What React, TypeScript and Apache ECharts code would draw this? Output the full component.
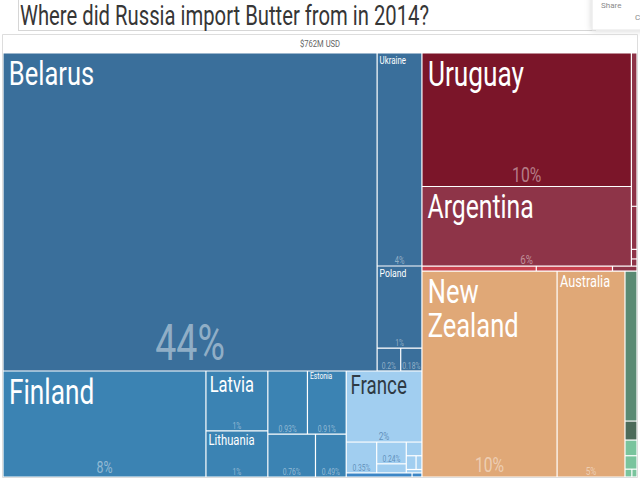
import React, { useEffect, useRef } from "react";
import * as echarts from "echarts";

const TITLE = "Where did Russia import Butter from in 2014?";
const TOTAL_LABEL = "$762M USD";

// Hierarchy: continent -> region -> country; values are % of Russia's butter imports (2014)
const continents = ["Europe", "Americas", "Oceania", "Asia", "Africa"];
const regions = [
  "Eastern Europe", "Northern Europe", "Western Europe", "Southern Europe",
  "South America", "North America", "Australia and New Zealand", "Central Asia", "Northern Africa",
];
const regionContinent = [
  "Europe", "Europe", "Europe", "Europe",
  "Americas", "Americas", "Oceania", "Asia", "Africa",
];
const countries = [
  "Belarus", "Ukraine", "Poland", "Moldova", "Hungary",
  "Finland", "Latvia", "Lithuania", "Denmark", "Estonia", "Ireland", "Sweden",
  "France", "Netherlands", "Germany", "Belgium", "Austria", "Switzerland", "Czechia", "Luxembourg",
  "Italy", "Greece",
  "Uruguay", "Argentina", "Chile", "Paraguay", "Brazil", "Colombia",
  "United States", "Mexico", "Canada",
  "New Zealand", "Australia",
  "Kazakhstan", "Kyrgyzstan",
  "Egypt", "Tunisia", "Morocco", "Algeria",
];
const countryRegion = [
  "Eastern Europe", "Eastern Europe", "Eastern Europe", "Eastern Europe", "Eastern Europe",
  "Northern Europe", "Northern Europe", "Northern Europe", "Northern Europe", "Northern Europe", "Northern Europe", "Northern Europe",
  "Western Europe", "Western Europe", "Western Europe", "Western Europe", "Western Europe", "Western Europe", "Western Europe", "Western Europe",
  "Southern Europe", "Southern Europe",
  "South America", "South America", "South America", "South America", "South America", "South America",
  "North America", "North America", "North America",
  "Australia and New Zealand", "Australia and New Zealand",
  "Central Asia", "Central Asia",
  "Northern Africa", "Northern Africa", "Northern Africa", "Northern Africa",
];
const importShare = [
  44.24, 3.55, 1.37, 0.2, 0.18,
  8.0, 1.38, 1.06, 0.93, 0.91, 0.76, 0.49,
  2.0, 0.35, 0.24, 0.1, 0.08, 0.05, 0.03, 0.02,
  0.1, 0.015,
  10.4, 6.2, 0.32, 0.09, 0.02, 0.015,
  0.21, 0.14, 0.045,
  10.35, 5.2,
  0.67, 0.085,
  0.07, 0.06, 0.02, 0.015,
];

// Which countries carry a name label / a share label in the picture
const namedCountries = [
  "Belarus", "Ukraine", "Poland", "Finland", "Latvia", "Lithuania", "Estonia",
  "France", "Uruguay", "Argentina", "New Zealand", "Australia",
];
const shareLabelled = [
  "Belarus", "Ukraine", "Poland", "Moldova", "Hungary", "Finland", "Latvia", "Lithuania",
  "Denmark", "Estonia", "Ireland", "Sweden", "France", "Netherlands", "Germany",
  "Uruguay", "Argentina", "New Zealand", "Australia",
];

// ---- styles ----
const FONT = "Roboto, 'Liberation Sans', sans-serif";
const SX = 0.75; // condensed look of the original face
const regionColor: Record<string, string> = {
  "Eastern Europe": "#3a6f9b",
  "Northern Europe": "#3b83b3",
  "Western Europe": "#a1cef0",
  "Southern Europe": "#3c86c6",
  "South America": "#8e3448",
  "North America": "#c9414e",
  "Australia and New Zealand": "#e0a877",
  "Central Asia": "#5a8a73",
  "Northern Africa": "#79c49d",
};
const countryColor: Record<string, string> = {
  Uruguay: "#7b1529",
  Canada: "#8e3448",
  Kyrgyzstan: "#4c6b5a",
};
const nameSize: Record<string, number> = {
  Belarus: 34, Uruguay: 35, Argentina: 33, Finland: 35, "New Zealand": 34, France: 25,
  Latvia: 22, Australia: 17, Lithuania: 15, Poland: 11.5, Ukraine: 10.5, Estonia: 9,
};
const shareSize: Record<string, number> = {
  Belarus: 50, Uruguay: 21, "New Zealand": 21, Finland: 16.5, Argentina: 13,
  Australia: 11, Ukraine: 10, France: 11,
};
const lightRegions = ["Western Europe"];

function fmtShare(v: number): string {
  if (v >= 1) return Math.round(v) + "%";
  return parseFloat(v.toFixed(2)) + "%";
}

function buildTree() {
  return continents.map((c) => ({
    name: c,
    children: regions
      .filter((_, ri) => regionContinent[ri] === c)
      .map((r) => ({
        name: r,
        children: countries
          .map((n, i) => ({ n, i }))
          .filter((o) => countryRegion[o.i] === r)
          .map((o) => ({
            name: o.n,
            value: importShare[o.i],
            itemStyle: {
              color: countryColor[o.n] || regionColor[r],
              borderColor: "rgba(255,255,255,0.88)",
              borderWidth: 0.6,
            },
          })),
      })),
  }));
}

const TM_BOX = { left: 3, top: 53, width: 634, height: 424 };

type R = { x: number; y: number; w: number; h: number };

function leafRects(chart: any): Record<string, R> {
  const out: Record<string, R> = {};
  try {
    const series = chart.getModel().getSeriesByIndex(0);
    const root = series.getData().tree.root;
    const walk = (node: any, ox: number, oy: number) => {
      const l = node.getLayout();
      if (!l) return;
      const ax = ox + (l.x || 0);
      const ay = oy + (l.y || 0);
      if (!node.children || node.children.length === 0) {
        out[node.name] = { x: ax, y: ay, w: l.width, h: l.height };
      } else {
        node.children.forEach((c: any) => walk(c, ax, ay));
      }
    };
    walk(root, TM_BOX.left, TM_BOX.top);
  } catch (e) {
    // ignore
  }
  return out;
}

let measureCtx: CanvasRenderingContext2D | null = null;
function textWidth(t: string, fs: number): number {
  if (!measureCtx) measureCtx = document.createElement("canvas").getContext("2d");
  if (!measureCtx) return t.length * fs * 0.5;
  measureCtx.font = `${fs}px ${FONT}`;
  return measureCtx.measureText(t).width * SX;
}

function wrapWords(t: string, fs: number, maxW: number): string {
  if (textWidth(t, fs) <= maxW) return t;
  return t.split(" ").join("\n");
}

function staticGraphics() {
  return [
    { type: "line", shape: { x1: 18.5, y1: 0, x2: 18.5, y2: 30 }, style: { stroke: "#d6d6d6", lineWidth: 1 } },
    { type: "line", shape: { x1: 18, y1: 30.5, x2: 596, y2: 30.5 }, style: { stroke: "#d6d6d6", lineWidth: 1 } },
    {
      type: "text",
      x: 20,
      y: 2,
      scaleX: SX,
      style: { text: TITLE, fontSize: 27, fill: "#363636", fontFamily: FONT, verticalAlign: "top" },
    },
    {
      type: "rect",
      shape: { x: 592, y: -4, width: 60, height: 34 },
      style: { fill: "#ffffff", stroke: "#e4e4e4", shadowBlur: 6, shadowColor: "rgba(0,0,0,0.18)" },
    },
    { type: "text", x: 601, y: 1, style: { text: "Share", fontSize: 8, fill: "#8a8a8a", fontFamily: FONT } },
    { type: "text", x: 635, y: 13, style: { text: "C", fontSize: 8, fill: "#8a8a8a", fontFamily: FONT } },
    {
      type: "rect",
      shape: { x: 2.5, y: 34.5, width: 635, height: 443 },
      style: { fill: "none", stroke: "#dddddd", lineWidth: 1 },
    },
    {
      type: "text",
      x: 320,
      y: 43.5,
      scaleX: 0.85,
      style: {
        text: TOTAL_LABEL,
        fontSize: 9,
        fill: "#666666",
        fontFamily: FONT,
        align: "center",
        verticalAlign: "middle",
      },
    },
  ];
}

function labelGraphics(rects: Record<string, R>) {
  const els: any[] = [];
  namedCountries.forEach((name) => {
    const r = rects[name];
    if (!r) return;
    const i = countries.indexOf(name);
    const light = lightRegions.includes(countryRegion[i]);
    const fs = nameSize[name] || 10;
    const padX = Math.max(2.5, fs * 0.17);
    const padY = Math.max(0.5, fs * 0.1);
    els.push({
      type: "text",
      x: r.x + padX,
      y: r.y + padY,
      scaleX: SX,
      silent: true,
      z: 50,
      style: {
        text: wrapWords(name, fs, r.w - 2 * padX),
        fontSize: fs,
        lineHeight: Math.round(fs * 1.0),
        fontFamily: FONT,
        fill: light ? "#2f3a44" : "#ffffff",
        align: "left",
        verticalAlign: "top",
      },
    });
  });
  shareLabelled.forEach((name) => {
    const r = rects[name];
    if (!r) return;
    const i = countries.indexOf(name);
    const light = lightRegions.includes(countryRegion[i]);
    const fs = shareSize[name] || 9;
    els.push({
      type: "text",
      x: r.x + r.w / 2,
      y: r.y + r.h - fs * 0.05,
      scaleX: SX,
      silent: true,
      z: 50,
      style: {
        text: fmtShare(importShare[i]),
        fontSize: fs,
        fontFamily: FONT,
        fill: light ? "rgba(50,100,150,0.6)" : "rgba(255,255,255,0.45)",
        align: "center",
        verticalAlign: "bottom",
      },
    });
  });
  return els;
}

export default function App() {
  const ref = useRef<HTMLDivElement>(null);
  useEffect(() => {
    if (!ref.current) return;
    const chart = echarts.init(ref.current, undefined, { renderer: "svg" });
    chart.setOption({
      animation: false,
      backgroundColor: "#ffffff",
      graphic: staticGraphics(),
      series: [
        {
          type: "treemap",
          ...TM_BOX,
          roam: false,
          nodeClick: false,
          breadcrumb: { show: false },
          sort: "desc",
          visibleMin: 1,
          animation: false,
          itemStyle: { borderWidth: 0, gapWidth: 0, borderColor: "#ffffff" },
          label: { show: false },
          upperLabel: { show: false },
          emphasis: { disabled: true },
          data: buildTree(),
        },
      ],
    });
    const rects = leafRects(chart);
    chart.setOption({ graphic: [...staticGraphics(), ...labelGraphics(rects)] });
    return () => chart.dispose();
  }, []);
  return (
    <div
      ref={ref}
      style={{ position: "fixed", left: 0, top: 0, width: 640, height: 479, background: "#fff" }}
    />
  );
}
